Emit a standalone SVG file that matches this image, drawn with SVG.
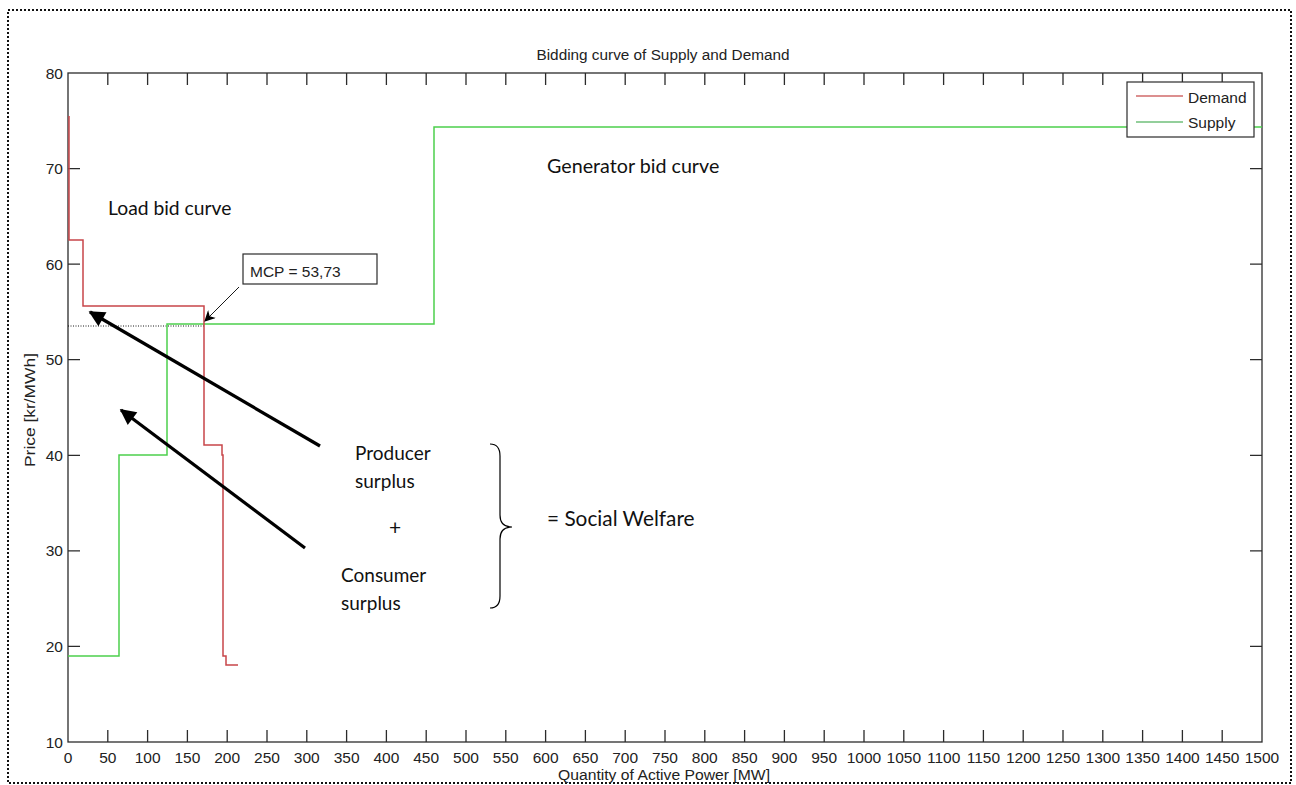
<svg xmlns="http://www.w3.org/2000/svg" width="1296" height="785" viewBox="0 0 1296 785">
  <style>
    .axis { fill: none; stroke: #2b2b2b; stroke-width: 1.3; }
    .tick { stroke: #2b2b2b; stroke-width: 1.3; }
    .num { font-family: "Liberation Sans", Arial, sans-serif; font-size: 15.5px; fill: #222; }
    .lab { font-family: "Liberation Sans", Arial, sans-serif; font-size: 15.5px; fill: #222; }
    .note { font-family: Lato, "Open Sans", sans-serif; fill: #111; }
    .demand { fill: none; stroke: #c8464a; stroke-width: 1.5; }
    .supply { fill: none; stroke: #4ccf4c; stroke-width: 1.5; }
    .big { stroke: #000; stroke-width: 3.2; fill: none; }
  </style>
  <defs>
    <marker id="bighead" viewBox="0 0 10 10" refX="9" refY="5" markerWidth="6.5" markerHeight="5" markerUnits="strokeWidth" orient="auto">
      <path d="M0,0 L10,5 L0,10 z" fill="#000"/>
    </marker>
    <marker id="smallhead" viewBox="0 0 10 10" refX="9" refY="5" markerWidth="16" markerHeight="11" markerUnits="userSpaceOnUse" orient="auto">
      <path d="M0,0 L10,5 L0,10 L3,5 z" fill="#000"/>
    </marker>
  </defs>

  <rect width="1296" height="785" fill="#fff"/>
  <!-- dotted frame -->
  <rect x="8" y="10" width="1283" height="773" fill="none" stroke="#111" stroke-width="2" stroke-dasharray="2 2"/>

  <!-- plot box -->
  <g id="axes">
    <rect class="axis" x="68" y="73" width="1194" height="669"/>
    <g id="xticks">
      <path class="tick" d="M107.8,742v-12M147.6,742v-12M187.4,742v-12M227.2,742v-12M267,742v-12M306.8,742v-12M346.6,742v-12M386.4,742v-12M426.2,742v-12M466,742v-12M505.8,742v-12M545.6,742v-12M585.4,742v-12M625.2,742v-12M665,742v-12M704.8,742v-12M744.6,742v-12M784.4,742v-12M824.2,742v-12M864,742v-12M903.8,742v-12M943.6,742v-12M983.4,742v-12M1023.2,742v-12M1063,742v-12M1102.8,742v-12M1142.6,742v-12M1182.4,742v-12M1222.2,742v-12"/>
      <path class="tick" d="M107.8,73v12M147.6,73v12M187.4,73v12M227.2,73v12M267,73v12M306.8,73v12M346.6,73v12M386.4,73v12M426.2,73v12M466,73v12M505.8,73v12M545.6,73v12M585.4,73v12M625.2,73v12M665,73v12M704.8,73v12M744.6,73v12M784.4,73v12M824.2,73v12M864,73v12M903.8,73v12M943.6,73v12M983.4,73v12M1023.2,73v12M1063,73v12M1102.8,73v12M1142.6,73v12M1182.4,73v12M1222.2,73v12"/>
    </g>
    <g id="yticks">
      <path class="tick" d="M68,168.6h12M68,264.2h12M68,359.7h12M68,455.3h12M68,550.9h12M68,646.4h12"/>
      <path class="tick" d="M1262,168.6h-12M1262,264.2h-12M1262,359.7h-12M1262,455.3h-12M1262,550.9h-12M1262,646.4h-12"/>
    </g>
    <g id="xlabels" class="num" text-anchor="middle">
      <text x="68" y="763">0</text>
      <text x="107.8" y="763">50</text>
      <text x="147.6" y="763">100</text>
      <text x="187.4" y="763">150</text>
      <text x="227.2" y="763">200</text>
      <text x="267" y="763">250</text>
      <text x="306.8" y="763">300</text>
      <text x="346.6" y="763">350</text>
      <text x="386.4" y="763">400</text>
      <text x="426.2" y="763">450</text>
      <text x="466" y="763">500</text>
      <text x="505.8" y="763">550</text>
      <text x="545.6" y="763">600</text>
      <text x="585.4" y="763">650</text>
      <text x="625.2" y="763">700</text>
      <text x="665" y="763">750</text>
      <text x="704.8" y="763">800</text>
      <text x="744.6" y="763">850</text>
      <text x="784.4" y="763">900</text>
      <text x="824.2" y="763">950</text>
      <text x="864" y="763">1000</text>
      <text x="903.8" y="763">1050</text>
      <text x="943.6" y="763">1100</text>
      <text x="983.4" y="763">1150</text>
      <text x="1023.2" y="763">1200</text>
      <text x="1063" y="763">1250</text>
      <text x="1102.8" y="763">1300</text>
      <text x="1142.6" y="763">1350</text>
      <text x="1182.4" y="763">1400</text>
      <text x="1222.2" y="763">1450</text>
      <text x="1262" y="763">1500</text>
    </g>
    <g id="ylabels" class="num" text-anchor="end">
      <text x="63" y="79">80</text>
      <text x="63" y="174">70</text>
      <text x="63" y="270">60</text>
      <text x="63" y="365">50</text>
      <text x="63" y="461">40</text>
      <text x="63" y="556">30</text>
      <text x="63" y="652">20</text>
      <text x="63" y="748">10</text>
    </g>
    <text class="lab" x="663" y="60" text-anchor="middle" textLength="253" lengthAdjust="spacingAndGlyphs">Bidding curve of Supply and Demand</text>
    <text class="lab" x="664" y="780" text-anchor="middle" textLength="212" lengthAdjust="spacingAndGlyphs">Quantity of Active Power [MW]</text>
    <text class="lab" transform="translate(35,410) rotate(-90)" text-anchor="middle" textLength="114" lengthAdjust="spacingAndGlyphs">Price [kr/MWh]</text>
  </g>

  <!-- bid curves -->
  <g id="curves">
    <line x1="68" y1="326" x2="204" y2="326" stroke="#000" stroke-width="0.9" stroke-dasharray="1 1.5"/>
    <path id="supply" class="supply" d="M68,656 H119 V455 H167 V324 H434 V127 H1262"/>
    <path id="demand" class="demand" d="M69,116 V240 H83 V306 H204 V445 H222 V455 H223 V656 H226 V665 H238"/>
  </g>

  <!-- legend -->
  <g id="legend">
    <rect x="1127" y="82" width="127" height="55" fill="#fff" stroke="#2b2b2b" stroke-width="1.2"/>
    <line x1="1136" y1="96" x2="1183" y2="96" stroke="#d06a6a" stroke-width="1.6"/>
    <line x1="1136" y1="122" x2="1183" y2="122" stroke="#6fbf7a" stroke-width="1.6"/>
    <text class="lab" x="1188" y="103">Demand</text>
    <text class="lab" x="1188" y="128">Supply</text>
  </g>

  <!-- market clearing price callout -->
  <g id="mcp">
    <rect x="243" y="254" width="134" height="30" fill="#fff" stroke="#2b2b2b" stroke-width="1.2"/>
    <text class="lab" x="250" y="277">MCP = 53,73</text>
  </g>

  <!-- annotation texts -->
  <g id="load-label"><text class="note" x="108" y="215" font-size="19.3">Load bid curve</text></g>
  <g id="gen-label"><text class="note" x="547" y="173" font-size="19.7">Generator bid curve</text></g>
  <g id="surplus">
    <text class="note" x="355" y="460" font-size="19">Producer</text>
    <text class="note" x="355" y="488" font-size="19">surplus</text>
    <text class="note" x="395" y="535" font-size="21" text-anchor="middle">+</text>
    <text class="note" x="341" y="582" font-size="19">Consumer</text>
    <text class="note" x="341" y="610" font-size="19">surplus</text>
  </g>
  <g id="welfare"><text class="note" x="547" y="526" font-size="20.8">= Social Welfare</text></g>
  <g id="brace">
    <path d="M490,444 Q500,444 500,456 L500,515 Q500,527 512,527 Q500,527 500,539 L500,596 Q500,608 490,608" fill="none" stroke="#000" stroke-width="1.2"/>
  </g>

  <!-- connectors -->
  <g id="connectors">
    <line x1="239" y1="287" x2="205" y2="321" stroke="#000" stroke-width="0.9" marker-end="url(#smallhead)"/>
    <line class="big" x1="320" y1="446" x2="90" y2="312" marker-end="url(#bighead)"/>
    <line class="big" x1="305" y1="548" x2="121" y2="410" marker-end="url(#bighead)"/>
  </g>
</svg>
